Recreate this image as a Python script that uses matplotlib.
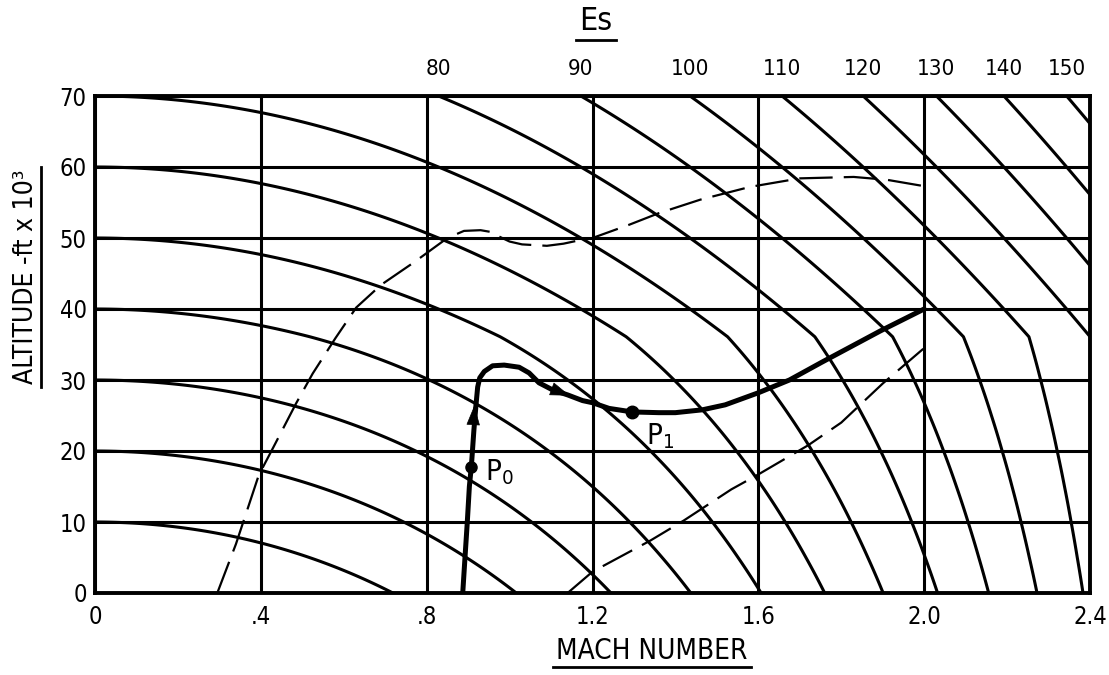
import numpy as np
import matplotlib
matplotlib.use("Agg")
import matplotlib.pyplot as plt
from matplotlib.lines import Line2D

plt.rcParams["font.family"] = ["DejaVu Sans"]
plt.rcParams["font.stretch"] = "condensed"

# Standard atmosphere: speed of sound (ft/s) against altitude (thousands of ft)
atm_alt = [0, 5, 10, 15, 20, 25, 30, 35, 36.089, 40, 50, 60, 70]
atm_sound = [1116.4, 1097.1, 1077.4, 1057.3, 1036.9, 1016.0, 994.7, 972.9,
             968.1, 968.1, 968.1, 968.1, 968.1]
G = 32.174  # ft/s^2

# Specific-energy levels Es (thousands of ft)
es_levels = [10, 20, 30, 40, 50, 60, 70, 80, 90, 100, 110, 120, 130, 140, 150]
es_top_ticks = [80, 90, 100, 110, 120, 130, 140, 150]

# Axis ticks
mach_ticks = [0, 0.4, 0.8, 1.2, 1.6, 2.0, 2.4]
mach_labels = ["0", ".4", ".8", "1.2", "1.6", "2.0", "2.4"]
alt_ticks = [0, 10, 20, 30, 40, 50, 60, 70]
alt_labels = ["0", "10", "20", "30", "40", "50", "60", "70"]

# Upper flight boundary (dashed)
upper_mach = [0.295, 0.34, 0.395, 0.43, 0.485, 0.525, 0.58, 0.63, 0.69, 0.77,
              0.85, 0.89, 0.93, 0.96, 0.975, 1.0, 1.03, 1.09, 1.13, 1.17, 1.20,
              1.29, 1.36, 1.46, 1.58, 1.70, 1.83, 1.91, 2.0]
upper_alt = [0.0, 6.9, 16.6, 20.5, 26.7, 30.9, 35.9, 40.2, 43.4, 46.6,
             50.0, 51.0, 51.1, 50.8, 50.2, 49.5, 49.1, 48.9, 49.2, 49.7, 50.0,
             51.9, 53.5, 55.4, 57.2, 58.4, 58.6, 58.2, 57.3]

# Lower limit line (dashed)
lower_mach = [1.14, 1.20, 1.34, 1.42, 1.535, 1.60, 1.72, 1.80, 1.90, 2.0]
lower_alt = [0.0, 3.0, 7.4, 10.2, 14.6, 16.7, 20.8, 24.0, 29.5, 34.5]

# Flight path
path_mach = [0.887, 0.892, 0.898, 0.903, 0.908, 0.914, 0.919, 0.923, 0.928,
             0.939, 0.959, 0.987, 1.023, 1.047, 1.071, 1.104, 1.14, 1.176,
             1.2, 1.24, 1.296, 1.36, 1.40, 1.465, 1.52, 1.6, 1.675, 1.753,
             1.894, 2.0]
path_alt = [0.0, 4.6, 10.0, 15.0, 18.0, 23.0, 26.5, 29.0, 30.3,
            31.2, 32.0, 32.1, 31.8, 31.0, 29.6, 28.6, 27.9, 27.1,
            26.8, 26.0, 25.5, 25.4, 25.4, 25.8, 26.5, 28.2, 30.0, 32.5,
            36.9, 40.0]
p0_mach, p0_alt = 0.906, 17.8
p1_mach, p1_alt = 1.296, 25.5

W, H = 1109, 675
fig = plt.figure(figsize=(W / 100, H / 100), dpi=100)
ax = fig.add_axes([95 / W, 82 / H, 995 / W, 497 / H])

# Energy-height lines: Es = h + V^2 / 2g
mg, hg = np.meshgrid(np.linspace(0, 2.4, 961), np.linspace(0, 70, 1401))
sound = np.interp(hg, atm_alt, atm_sound)
es = hg + (mg * sound) ** 2 / (2 * G) / 1000.0
ax.contour(mg, hg, es, levels=es_levels, colors="black", linewidths=2.2)

ax.set_xlim(0, 2.4)
ax.set_ylim(0, 70)
ax.set_xticks(mach_ticks)
ax.set_xticklabels(mach_labels)
ax.set_yticks(alt_ticks)
ax.set_yticklabels(alt_labels)
ax.tick_params(length=0, labelsize=17)
ax.tick_params(axis="x", pad=9)
ax.tick_params(axis="y", pad=6)
ax.grid(True, color="black", linewidth=2.2)
for s in ax.spines.values():
    s.set_linewidth(2.8)

# Boundaries
dash = (0, (15, 5))
ax.plot(upper_mach, upper_alt, color="black", lw=1.6, linestyle=dash)
ax.plot(lower_mach, lower_alt, color="black", lw=1.6, linestyle=dash)

# Flight path with direction arrows and points
ax.plot(path_mach, path_alt, color="black", lw=3.6,
        solid_capstyle="round", solid_joinstyle="round")
head = dict(arrowstyle="-|>,head_length=1.3,head_width=0.45", color="black",
            lw=0.5, shrinkA=0, shrinkB=0)
ax.annotate("", xy=(0.915, 26.4), xytext=(0.909, 20.5), arrowprops=head)
ax.annotate("", xy=(1.145, 27.8), xytext=(1.09, 29.0), arrowprops=head)
ax.plot([p0_mach], [p0_alt], "o", color="black", ms=8)
ax.plot([p1_mach], [p1_alt], "o", color="black", ms=9)
ax.text(0.94, 17.0, "P$_0$", fontsize=21, va="center", ha="left")
ax.text(1.33, 22.1, "P$_1$", fontsize=21, va="center", ha="left")

# Specific-energy scale along the top edge (h = 70 000 ft)
def mach_to_es(m):
    return 70 + (np.asarray(m) * 968.1) ** 2 / (2 * G) / 1000.0

def es_to_mach(e):
    return np.sqrt(np.clip(np.asarray(e) - 70, 0, None) * 1000.0 * 2 * G) / 968.1

top = ax.secondary_xaxis("top", functions=(mach_to_es, es_to_mach))
top.set_xticks(es_top_ticks)
top.set_xticklabels([str(v) for v in es_top_ticks])
top.tick_params(length=0, labelsize=16, pad=12)

# Titles, underlined
t_es = fig.text(596 / W, 1 - 22 / H, "Es", fontsize=23, ha="center", va="center")
t_x = fig.text(652 / W, 1 - 651 / H, "MACH NUMBER", fontsize=20,
               ha="center", va="center")
t_y = fig.text(26 / W, 1 - 277 / H, "ALTITUDE -ft x 10³", fontsize=19,
               rotation=90, ha="center", va="center")

fig.canvas.draw()
r = fig.canvas.get_renderer()
for t in (t_es, t_x):
    bb = t.get_window_extent(r)
    y = bb.y0 - 2
    fig.add_artist(Line2D([(bb.x0 - 3) / W, (bb.x1 + 3) / W], [y / H, y / H],
                          transform=fig.transFigure, color="black", lw=2))
bb = t_y.get_window_extent(r)
x = bb.x1 + 2
fig.add_artist(Line2D([x / W, x / W], [(bb.y0 - 3) / H, (bb.y1 + 3) / H],
                      transform=fig.transFigure, color="black", lw=2))

fig.savefig("out.png", dpi=100, facecolor="white")
